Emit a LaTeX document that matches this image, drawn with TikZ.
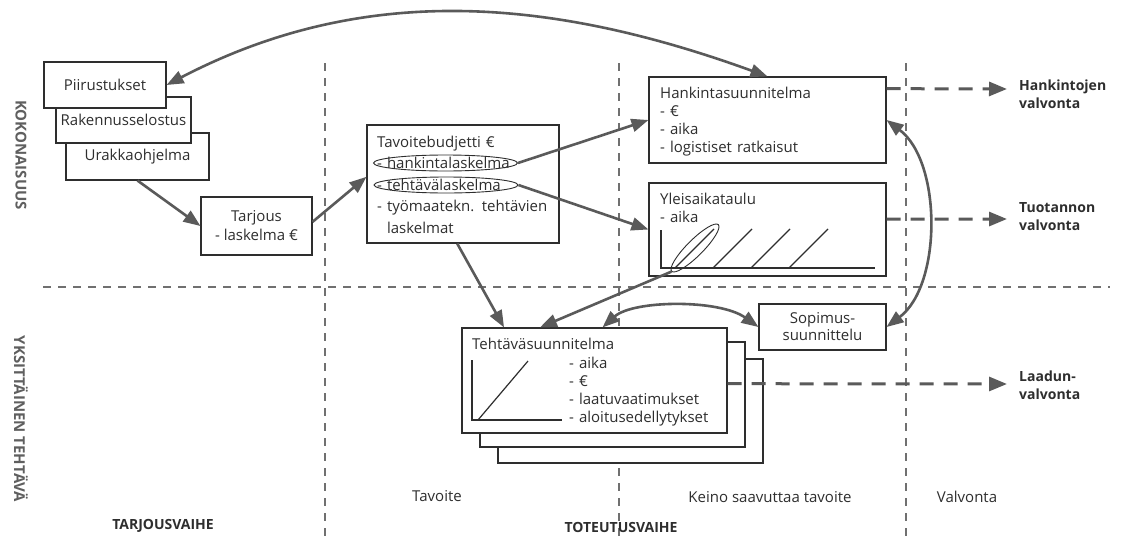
\documentclass[tikz,border=0pt]{standalone}
\usepackage{fontspec}
\setmainfont{Open Sans}
\usetikzlibrary{arrows.meta,shapes.geometric,calc}
\definecolor{ink}{HTML}{2E2E2E}
\definecolor{arrowgray}{HTML}{5A5A5A}
\definecolor{gridgray}{HTML}{707070}
\definecolor{headgray}{HTML}{5F5F5F}
\newcommand\diagfont{\fontsize{15}{18}\selectfont}

\begin{document}
\begin{tikzpicture}[x=1pt, y=-1pt,
  box/.style={draw=ink, line width=1.1pt, fill=white, inner sep=0pt, text=ink, font=\diagfont, align=center},
  txt/.style={inner sep=0pt, text=ink, font=\diagfont, anchor=base west, align=left, text width=240pt},
  grid/.style={gridgray, line width=1.5pt, dash pattern=on 8pt off 7pt},
  conn/.style={arrowgray, line width=2.6pt, -{Triangle[length=17pt,width=13pt]}},
  biconn/.style={arrowgray, line width=2.6pt, {Triangle[length=17pt,width=13pt]}-{Triangle[length=17pt,width=13pt]}},
  ctrl/.style={arrowgray, line width=3pt, dash pattern=on 14pt off 10pt, -{Triangle[length=18pt,width=14pt]}},
  ctrllabel/.style={inner sep=0pt, text=ink, font=\fontsize{14}{18}\selectfont\bfseries, anchor=base west, align=left, text width=110pt},
  level/.style={inner sep=0pt, text=headgray, font=\fontsize{15}{18}\selectfont\bfseries, rotate=-90},
  phase/.style={inner sep=0pt, text=ink, font=\fontsize{14}{18}\selectfont\bfseries},
  column/.style={inner sep=0pt, text=ink, font=\diagfont},
  ring/.style={draw=ink, line width=0.9pt, ellipse, inner sep=0pt},
  axis/.style={ink, line width=2pt},
  bar/.style={ink, line width=1.2pt},
]
\useasboundingbox[fill=white] (0,0) rectangle (1125,536);

% phase and level grid
\draw[grid] (325,63) -- (325,536);
\draw[grid] (619,63) -- (619,536);
\draw[grid] (906,63) -- (906,536);
\draw[grid] (43,287) -- (1110,287);

% level and phase headings
\node[level] (lvtop) at (21,155) {KOKONAISUUS};
\node[level] (lvtask) at (21,419) {YKSITTÄINEN TEHTÄVÄ};
\node[phase] (phbid) at (163,526) {TARJOUSVAIHE};
\node[phase] (phimpl) at (621,527) {TOTEUTUSVAIHE};
\node[column] (colgoal) at (437,496) {Tavoite};
\node[column] (colmeans) at (770,497) {Keino saavuttaa tavoite};
\node[column] (colctrl) at (967,497) {Valvonta};

% tender documents
\node[box, minimum width=143, minimum height=47] (urak) at (137.5,156.5) {Urakkaohjelma};
\node[box, minimum width=135, minimum height=46] (rak) at (123.5,120) {Rakennusselostus};
\node[box, minimum width=122, minimum height=46] (piir) at (105,85) {Piirustukset};
\node[box, minimum width=111, minimum height=58, font=\fontsize{15}{19}\selectfont] (tar) at (256.5,226) {Tarjous\\- laskelma €};

% target budget
\node[box, minimum width=192, minimum height=118] (tav) at (463,184) {};
\node[txt, font=\fontsize{15}{21.5}\selectfont] (tavtxt) at (377,147)
  {Tavoitebudjetti €\\- hankintalaskelma\\- tehtävälaskelma\\- työmaatekn. tehtävien\\\phantom{-~}laskelmat};
\node[ring, minimum width=144, minimum height=16] (hke) at (445.5,163) {};
\node[ring, minimum width=144, minimum height=16] (tke) at (446,185) {};

% procurement plan and master schedule
\node[box, minimum width=237, minimum height=86] (hank) at (767.5,120) {};
\node[txt] (hanktxt) at (660,98) {Hankintasuunnitelma\\- €\\- aika\\- logistiset ratkaisut};
\node[box, minimum width=237, minimum height=93] (yleis) at (767.5,229.5) {};
\node[txt] (yleistxt) at (660,204) {Yleisaikataulu\\- aika};
\draw[axis] (661,230) -- (661,268) -- (875,268);
\draw[bar] (675,268) -- (714,229);
\draw[bar] (713,268) -- (752,229);
\draw[bar] (751,268) -- (790,229);
\draw[bar] (789,268) -- (828,229);
\node[ring, minimum width=66, minimum height=16, rotate=45] (yell) at (695,248) {};

% contract planning
\node[box, minimum width=127, minimum height=46, font=\fontsize{15}{17}\selectfont] (sop) at (822.5,327) {Sopimus-\\suunnittelu};

% task plans (stack)
\node[box, minimum width=265, minimum height=104] (tehc) at (630.5,411) {};
\node[box, minimum width=265, minimum height=105] (tehb) at (612.5,394.5) {};
\node[box, minimum width=265, minimum height=105] (teh) at (594.5,380.5) {};
\node[txt] (tehtitle) at (472,349) {Tehtäväsuunnitelma};
\node[txt] (tehlist) at (569,368) {- aika\\- €\\- laatuvaatimukset\\- aloitusedellytykset};
\draw[axis] (472,360) -- (472,420) -- (562,420);
\draw[bar] (478,420) -- (528,361);

% connection points on box edges
\coordinate (tarout) at ($(tar.north east)!0.43!(tar.south east)$);
\coordinate (tavin) at ($(tav.north west)!0.44!(tav.south west)$);
\coordinate (tavout) at ($(tav.south west)!0.47!(tav.south east)$);
\coordinate (tehinA) at ($(teh.north west)!0.16!(teh.north east)$);
\coordinate (tehinB) at ($(teh.north west)!0.295!(teh.north east)$);
\coordinate (tehsop) at ($(teh.north west)!0.53!(teh.north east)$);
\coordinate (hanktop) at ($(hank.north west)!0.5!(hank.north east)$);
\coordinate (hankctl) at ($(hank.north east)!0.14!(hank.south east)$);
\coordinate (yleisctl) at ($(yleis.north east)!0.39!(yleis.south east)$);
\coordinate (tehctl) at ($(teh.north east)!0.53!(teh.south east)$);
\coordinate (hkend) at (1007,89);
\coordinate (tuend) at (1007,219);
\coordinate (laend) at (1007,384);

% flow arrows
\draw[conn] (urak.south) -- (tar.west);
\draw[conn] (tarout) -- (tavin);
\draw[conn] (hke.east) -- (hank.west);
\draw[conn] (tke.east) -- (yleis.west);
\draw[conn] (tavout) -- (tehinA);
\draw[conn] (yell.west) -- (tehinB);
\draw[biconn] (piir.east) .. controls (366,-19) and (554,-1) .. (hanktop);
\draw[biconn] (hank.east) .. controls (942,162) and (942,285) .. (sop.east);
\draw[biconn] (tehsop) .. controls (633,300) and (719,299) .. (sop.west);

% control outputs
\draw[ctrl] (hankctl) -- (hkend);
\draw[ctrl] (yleisctl) -- (tuend);
\draw[ctrl] (tehctl) -- (laend);
\node[ctrllabel] (hkl) at (1019,90) {Hankintojen\\valvonta};
\node[ctrllabel] (tul) at (1019,212) {Tuotannon\\valvonta};
\node[ctrllabel] (lal) at (1019,381) {Laadun-\\valvonta};
\end{tikzpicture}
\end{document}
